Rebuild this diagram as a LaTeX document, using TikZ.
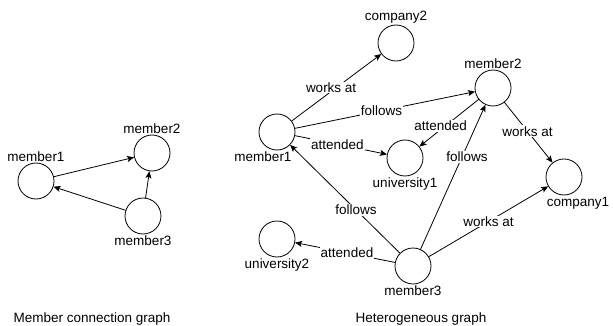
\documentclass[tikz,border=0pt]{standalone}
\usepackage{fontspec}
\setmainfont{Liberation Sans}
\usetikzlibrary{arrows.meta}

\begin{document}
\begin{tikzpicture}[x=1pt,y=-1pt,line cap=round,line join=round,line width=0.8pt,
    >={Stealth[length=7pt,width=6pt,inset=1.5pt]},
    ent/.style={circle,draw,minimum size=36pt,inner sep=0pt},
    rel/.style={fill=white,inner sep=1pt},
    every node/.style={font=\fontsize{13.5}{16}\selectfont},
    every label/.style={inner sep=1pt}]
        \useasboundingbox (0,0) rectangle (613,326);
        % member connection graph
        \node[ent,label=above:member1] (a1) at (36,181) {};
        \node[ent,label=above:member2] (a2) at (152,153) {};
        \node[ent,label=below:member3] (a3) at (143,216) {};
        \draw[->] (a1) -- (a2);
        \draw[->] (a3) -- (a2);
        \draw[->] (a3) -- (a1);
        % heterogeneous graph
        \node[ent,label={[xshift=-14pt]below:member1}] (m1) at (277,132) {};
        \node[ent,label=above:member2] (m2) at (493,88) {};
        \node[ent,label=below:member3] (m3) at (413,266) {};
        \node[ent,label=above:company2] (c2) at (396,43) {};
        \node[ent,label={[xshift=14pt]below:company1}] (c1) at (564,177) {};
        \node[ent,label=below:university1] (u1) at (405,158) {};
        \node[ent,label=below:university2] (u2) at (277,239) {};
        \draw[->] (m1) -- node[rel,pos=0.44,yshift=4pt] {works at} (c2);
        \draw[->] (m1) -- node[rel,pos=0.48] {follows} (m2);
        \draw[->] (m1) -- node[rel,pos=0.46] {attended} (u1);
        \draw[->] (m2) -- node[rel,pos=0.64,yshift=4pt] {attended} (u1);
        \draw[->] (m2) -- node[rel,pos=0.48] {works at} (c1);
        \draw[->] (m3) -- node[rel,pos=0.64,xshift=5pt] {follows} (m2);
        \draw[->] (m3) -- node[rel,pos=0.5] {works at} (c1);
        \draw[->] (m3) -- node[rel,pos=0.4] {follows} (m1);
        \draw[->] (m3) -- node[rel,pos=0.48] {attended} (u2);
        % captions
        \node (t1) at (92,319) {Member connection graph};
        \node (t2) at (421,319) {Heterogeneous graph};
\end{tikzpicture}
\end{document}
